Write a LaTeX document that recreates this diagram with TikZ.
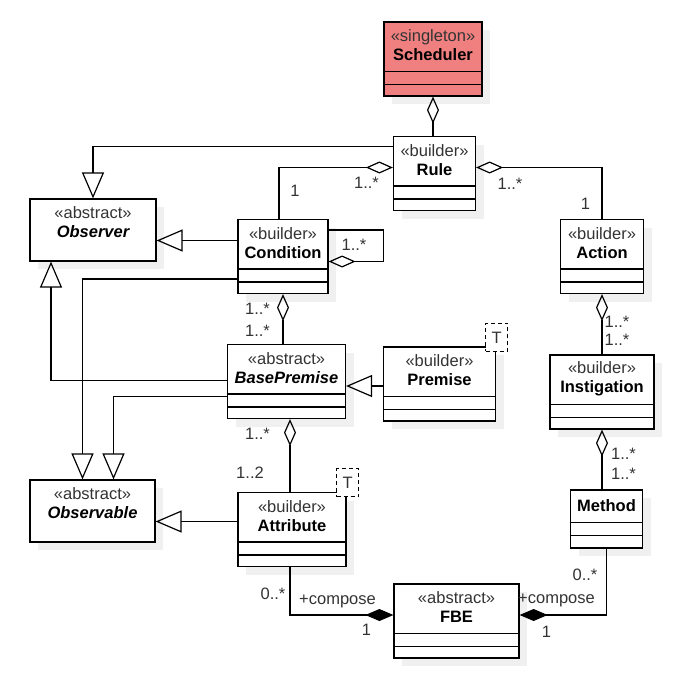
\documentclass[tikz,border=0pt]{standalone}
\usepackage{fontspec}
\setmainfont{Liberation Sans}
\usetikzlibrary{arrows.meta,calc,shadows}
\definecolor{schedred}{HTML}{F08080}

\begin{document}
\begin{tikzpicture}[x=1pt, y=-1pt,
	cls/.style={draw, rectangle, fill=white, line width=1.2pt, inner sep=0pt,
		drop shadow={shadow xshift=8pt, shadow yshift=-8pt, fill=black!6, opacity=1}},
	hdr/.style={align=center, inner sep=0pt, text=black!80, font=\fontsize{16.5}{19}\selectfont},
	lbl/.style={inner sep=0pt, text=black!80, font=\fontsize{16.5}{19}\selectfont},
	tmpl/.style={draw, dash pattern=on 4pt off 3pt, fill=white, line width=1.1pt, inner sep=0pt,
		minimum width=22pt, minimum height=28pt, text=black!80, font=\fontsize{16.5}{19}\selectfont},
	gen/.style={-{Triangle[open, length=26pt, width=22pt]}, line width=1.2pt},
	agg/.style={{Diamond[open, length=27pt, width=12pt]}-, line width=1.2pt},
	comp/.style={-{Diamond[length=28pt, width=12pt]}, line width=1.2pt}]
	\useasboundingbox (0,0) rectangle (697,681);

	% classes
	\node[cls, fill=schedred, minimum width=98pt, minimum height=74pt] (sched) at (433,59) {};
	\node[cls, minimum width=82pt, minimum height=74pt] (rule) at (434.5,173.5) {};
	\node[cls, minimum width=83pt, minimum height=74pt] (action) at (602,256.5) {};
	\node[cls, minimum width=126pt, minimum height=62pt] (observer) at (93,230) {};
	\node[cls, minimum width=90pt, minimum height=74pt] (condition) at (283,256.5) {};
	\node[cls, minimum width=118pt, minimum height=74pt] (basepremise) at (286.5,381.5) {};
	\node[cls, minimum width=112pt, minimum height=74pt] (premise) at (439.5,384) {};
	\node[cls, minimum width=104pt, minimum height=74pt] (instigation) at (602,392) {};
	\node[cls, minimum width=125pt, minimum height=62pt] (observable) at (92.5,511) {};
	\node[cls, minimum width=108pt, minimum height=74pt] (attribute) at (292,529.5) {};
	\node[cls, minimum width=72pt, minimum height=58pt] (method) at (606.5,519) {};
	\node[cls, minimum width=125pt, minimum height=74pt] (fbe) at (456.5,621) {};

	% compartments
	\foreach \n/\a/\b in {sched/50/63, rule/50/63, action/50/63, condition/50/63,
		basepremise/50/63, premise/50/63, instigation/50/63, attribute/50/63,
		method/33/46, fbe/50/63}{
		\draw[line width=1.2pt] ($(\n.north west)+(0,\a)$) -- ($(\n.north east)+(0,\a)$);
		\draw[line width=1.2pt] ($(\n.north west)+(0,\b)$) -- ($(\n.north east)+(0,\b)$);
	}

	% headers
	\node[hdr] (schedtxt) at ($(sched.north)+(0,24)$) {«singleton»\\\textbf{\color{black}Scheduler}};
	\node[hdr] (ruletxt) at ($(rule.north)+(0,24)$) {«builder»\\\textbf{\color{black}Rule}};
	\node[hdr] (actiontxt) at ($(action.north)+(0,24)$) {«builder»\\\textbf{\color{black}Action}};
	\node[hdr] (observertxt) at ($(observer.north)+(0,24)$) {«abstract»\\\textbf{\textit{\color{black}Observer}}};
	\node[hdr] (conditiontxt) at ($(condition.north)+(0,24)$) {«builder»\\\textbf{\color{black}Condition}};
	\node[hdr] (basepremisetxt) at ($(basepremise.north)+(0,24)$) {«abstract»\\\textbf{\textit{\color{black}BasePremise}}};
	\node[hdr] (premisetxt) at ($(premise.north)+(0,24)$) {«builder»\\\textbf{\color{black}Premise}};
	\node[hdr] (instigationtxt) at ($(instigation.north)+(0,24)$) {«builder»\\\textbf{\color{black}Instigation}};
	\node[hdr] (observabletxt) at ($(observable.north)+(0,24)$) {«abstract»\\\textbf{\textit{\color{black}Observable}}};
	\node[hdr] (attributetxt) at ($(attribute.north)+(0,24)$) {«builder»\\\textbf{\color{black}Attribute}};
	\node[hdr] (methodtxt) at ($(method.north)+(0,16.5)$) {\textbf{\color{black}Method}};
	\node[hdr] (fbetxt) at ($(fbe.north)+(0,24)$) {«abstract»\\\textbf{\color{black}FBE}};

	% template parameters
	\node[tmpl] (premiseT) at ($(premise.north east)+(0.5,-9)$) {T};
	\node[tmpl] (attributeT) at ($(attribute.north east)+(1,-9)$) {T};

	% generalizations
	\draw[gen] ($(rule.west)+(0,-27)$) -| (observer.north);
	\draw[gen] ($(condition.west)+(0,-16)$) coordinate (c1) -- (c1 -| observer.east);
	\draw[gen] ($(basepremise.west)+(0,-1)$) -| ($(observer.south)+(-42,0)$);
	\draw[gen] ($(condition.west)+(0,22.5)$) -| ($(observable.north)+(-10,0)$);
	\draw[gen] ($(basepremise.west)+(0,15)$) -| ($(observable.north)+(21,0)$);
	\draw[gen] ($(premise.west)+(0,2)$) coordinate (c2) -- (c2 -| basepremise.east);
	\draw[gen] ($(attribute.west)+(0,-8)$) coordinate (c3) -- (c3 -| observable.east);

	% aggregations
	\draw[agg] (sched.south) -- (sched.south |- rule.north);
	\draw[agg] ($(rule.west)+(0,-6)$) -| ($(condition.north)+(-4,0)$);
	\draw[agg] ($(rule.east)+(0,-6)$) -| (action.north);
	\draw[agg] ($(condition.east)+(0,5)$) -- ++(55,0) |- ($(condition.east)+(0,-26.5)$);
	\draw[agg] (condition.south) -- (condition.south |- basepremise.north);
	\draw[agg] ($(basepremise.south)+(3.5,0)$) coordinate (c4) -- (c4 |- attribute.north);
	\draw[agg] (action.south) -- (action.south |- instigation.north);
	\draw[agg] (instigation.south) -- (instigation.south |- method.north);

	% compositions
	\draw[comp] ($(attribute.south)+(-2,0)$) |- ($(fbe.west)+(0,-6)$);
	\draw[comp] (method.south) |- ($(fbe.east)+(0,-6)$);

	% multiplicities
	\node[lbl] (m1) at (366.5,183) {1..*};
	\node[lbl] (m2) at (295,191) {1};
	\node[lbl] (m3) at (354,245) {1..*};
	\node[lbl] (m4) at (510,184) {1..*};
	\node[lbl] (m5) at (585.5,204) {1};
	\node[lbl] (m6) at (257.5,309) {1..*};
	\node[lbl] (m7) at (257.5,331) {1..*};
	\node[lbl] (m8) at (617,322) {1..*};
	\node[lbl] (m9) at (617,340) {1..*};
	\node[lbl] (m10) at (257.5,434) {1..*};
	\node[lbl] (m11) at (250,473) {1..2};
	\node[lbl] (m12) at (623.5,454) {1..*};
	\node[lbl] (m13) at (623.5,474) {1..*};
	\node[lbl] (m14) at (273,594) {0..*};
	\node[lbl] (m15) at (337.5,601.5) {+compose};
	\node[lbl] (m16) at (366.5,630) {1};
	\node[lbl] (m17) at (585,575) {0..*};
	\node[lbl] (m18) at (556.5,600.5) {+compose};
	\node[lbl] (m19) at (546.5,631.5) {1};
\end{tikzpicture}
\end{document}
